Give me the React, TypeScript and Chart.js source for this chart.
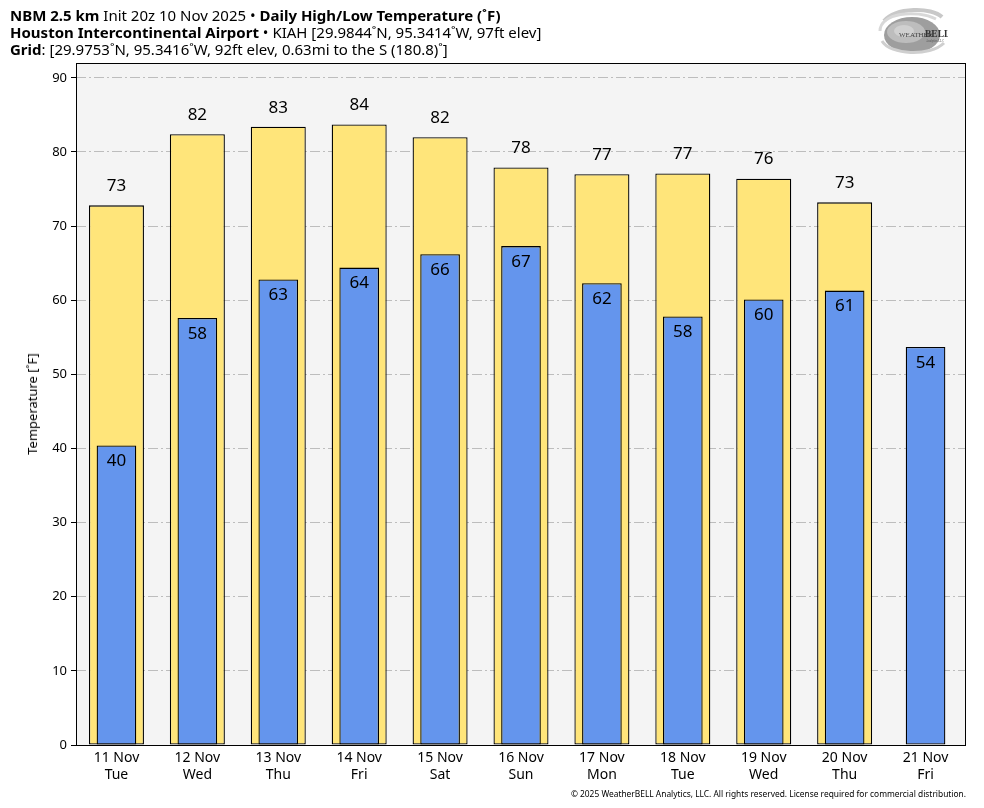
import React, { useEffect, useRef } from "react";
import { Chart, registerables } from "chart.js";

Chart.register(...registerables);

const dates = ["11 Nov", "12 Nov", "13 Nov", "14 Nov", "15 Nov", "16 Nov", "17 Nov", "18 Nov", "19 Nov", "20 Nov", "21 Nov"];
const weekdays = ["Tue", "Wed", "Thu", "Fri", "Sat", "Sun", "Mon", "Tue", "Wed", "Thu", "Fri"];
const highs: (number | null)[] = [72.8, 82.4, 83.4, 83.7, 82.0, 77.9, 77.0, 77.1, 76.4, 73.2, null];
const lows: number[] = [40.4, 57.6, 62.8, 64.4, 66.2, 67.3, 62.3, 57.8, 60.1, 61.3, 53.7];
const yTicks = [0, 10, 20, 30, 40, 50, 60, 70, 80, 90];

const FONT = "'Noto Sans', 'Open Sans', sans-serif";

const plotDecor = {
  id: "plotDecor",
  beforeDraw(chart: any) {
    const { ctx, chartArea: a } = chart;
    ctx.save();
    ctx.fillStyle = "#f4f4f4";
    ctx.fillRect(a.left, a.top, a.right - a.left, a.bottom - a.top);
    ctx.restore();
  },
  afterDatasetsDraw(chart: any) {
    const { ctx, chartArea: a } = chart;
    ctx.save();
    ctx.font = `17px ${FONT}`;
    ctx.fillStyle = "#000";
    ctx.textAlign = "center";
    ctx.textBaseline = "middle";
    chart.data.datasets.forEach((ds: any, di: number) => {
      const meta = chart.getDatasetMeta(di);
      meta.data.forEach((el: any, i: number) => {
        const v = ds.data[i];
        if (v === null || v === undefined) return;
        const txt = String(Math.round(v));
        if (ds.label === "High") ctx.fillText(txt, el.x, el.y - 19);
        else ctx.fillText(txt, el.x, el.y + 16);
      });
    });
    ctx.strokeStyle = "#000";
    ctx.lineWidth = 1;
    ctx.strokeRect(Math.round(a.left) + 0.5, Math.round(a.top) + 0.5, Math.round(a.right - a.left) - 1, Math.round(a.bottom - a.top));
    ctx.restore();
  },
};

function Logo() {
  return (
    <svg width="72" height="52" viewBox="0 0 72 52" style={{ position: "absolute", left: 876, top: 5 }}>
      <path d="M8 16 C 20 2, 56 2, 66 12" stroke="#c8c8c8" strokeWidth="4" fill="none" />
      <path d="M4 26 C 4 8, 40 4, 60 14" stroke="#d8d8d8" strokeWidth="3" fill="none" />
      <ellipse cx="36" cy="30" rx="28" ry="18" fill="#9e9e9e" />
      <ellipse cx="30" cy="27" rx="19" ry="11" fill="#bdbdbd" />
      <ellipse cx="28" cy="26" rx="10" ry="6" fill="#d0d0d0" />
      <path d="M6 36 C 14 50, 54 52, 68 38" stroke="#cfcfcf" strokeWidth="3" fill="none" />
      <text x="23" y="32" fontSize="7" fontFamily="serif" fill="#444">WEATHER</text>
      <text x="49" y="32" fontSize="9.5" fontFamily="serif" fontWeight="bold" fill="#333">BELL</text>
      <text x="50" y="37" fontSize="3" fontFamily="serif" fill="#555">Analytics LLC</text>
    </svg>
  );
}

export default function App() {
  const ref = useRef<HTMLCanvasElement | null>(null);

  useEffect(() => {
    document.body.style.margin = "0";
    if (!ref.current) return;
    const chart = new Chart(ref.current, {
      type: "bar",
      data: {
        labels: dates.map((d, i) => [d, weekdays[i]]),
        datasets: [
          {
            label: "High",
            data: highs,
            backgroundColor: "#ffe57a",
            borderColor: "#000",
            borderWidth: 1.3,
            borderSkipped: false,
            barPercentage: 0.68,
            categoryPercentage: 1,
            grouped: false,
            order: 2,
          } as any,
          {
            label: "Low",
            data: lows,
            backgroundColor: "#6495ed",
            borderColor: "#000",
            borderWidth: 1.3,
            borderSkipped: false,
            barPercentage: 0.49,
            categoryPercentage: 1,
            grouped: false,
            order: 1,
          } as any,
        ],
      },
      options: {
        animation: false,
        responsive: false,
        maintainAspectRatio: false,
        layout: { padding: { left: 24, right: 18, top: 63, bottom: 0 } },
        plugins: { legend: { display: false }, tooltip: { enabled: false } },
        scales: {
          x: {
            grid: { display: false },
            border: { display: false },
            ticks: { color: "#000", font: { family: FONT, size: 14 }, padding: -3, maxRotation: 0 },
            afterFit: (s: any) => { s.height = 63; },
          },
          y: {
            min: 0,
            max: 92,
            afterBuildTicks: (s: any) => { s.ticks = yTicks.map((v) => ({ value: v })); },
            grid: {
              color: (c: any) => (c.tick && c.tick.value === 0 ? "rgba(0,0,0,0)" : "#bdbdbd"),
              tickColor: "#000",
              tickLength: 5,
              drawOnChartArea: true,
              drawTicks: true,
              tickBorderDash: [],
            } as any,
            border: { display: false, dash: [10, 3, 2, 3] } as any,
            ticks: { color: "#000", font: { family: FONT, size: 13 }, padding: 4 },
            title: { display: false },
            afterFit: (s: any) => { s.width = 52; },
          },
        },
      },
      plugins: [plotDecor],
    });
    return () => chart.destroy();
  }, []);

  return (
    <div style={{ position: "relative", width: 984, height: 808, fontFamily: FONT, color: "#000", background: "#fff" }}>
      <canvas ref={ref} width={984} height={808} style={{ position: "absolute", left: 0, top: 0, width: 984, height: 808 }} />
      <div
        style={{
          position: "absolute",
          left: 32,
          top: 404,
          transform: "translate(-50%, -50%) rotate(-90deg)",
          fontSize: 13,
          whiteSpace: "nowrap",
        }}
      >
        Temperature [˚F]
      </div>
      <div style={{ position: "absolute", left: 10, top: 7, fontSize: 15, lineHeight: "17px", whiteSpace: "nowrap" }}>
        <div><b>NBM 2.5 km</b> Init 20z 10 Nov 2025 • <b>Daily High/Low Temperature (˚F)</b></div>
        <div><b>Houston Intercontinental Airport</b> • KIAH [29.9844˚N, 95.3414˚W, 97ft elev]</div>
        <div><b>Grid</b>: [29.9753˚N, 95.3416˚W, 92ft elev, 0.63mi to the S (180.8)˚]</div>
      </div>
      <Logo />
      <div style={{ position: "absolute", right: 18, top: 788, fontSize: 8.4, whiteSpace: "nowrap" }}>
        © 2025 WeatherBELL Analytics, LLC. All rights reserved. License required for commercial distribution.
      </div>
    </div>
  );
}
